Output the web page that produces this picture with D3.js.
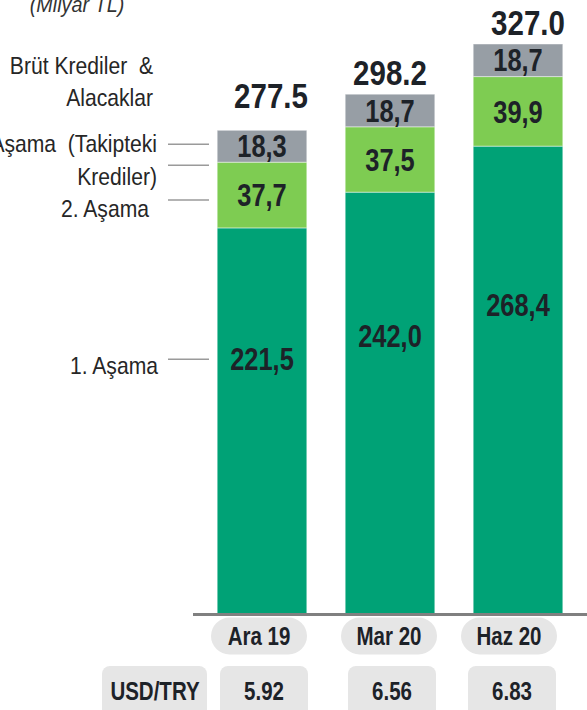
<!DOCTYPE html>
<html>
<head>
<meta charset="utf-8">
<script src="https://cdn.jsdelivr.net/npm/d3@7"></script>
<style>
  body { margin: 0; background: #fff; }
  svg { display: block; }
</style>
</head>
<body>
<div id="chart"></div>
<script>
const periods = ["Ara 19", "Mar 20", "Haz 20"];
const stage1 = [221.5, 242.0, 268.4];
const stage2 = [37.7, 37.5, 39.9];
const stage3 = [18.3, 18.7, 18.7];
const totals = ["277.5", "298.2", "327.0"];
const usdTry = ["5.92", "6.56", "6.83"];

const W = 587, H = 710;
const font = "'Liberation Sans', Arial, sans-serif";
const ink = "#1d2228";
const SQ = 0.82;   // horizontal squeeze to mimic a narrow face

const svg = d3.select("#chart")
  .append("svg")
  .attr("width", W)
  .attr("height", H);

const x = d3.scaleBand()
  .domain(periods)
  .range([198, 582])
  .paddingInner(0.3)
  .paddingOuter(0.15);

const y = d3.scaleLinear()
  .domain([0, 327])
  .range([614, 44]);

const fmt = v => d3.format(".1f")(v).replace(".", ",");
const at = (px, py, s = SQ) => `translate(${px},${py}) scale(${s},1)`;

const rows = periods.map((p, i) => ({
  period: p, s1: stage1[i], s2: stage2[i], s3: stage3[i], total: totals[i], fx: usdTry[i]
}));

const stack = d3.stack().keys(["s1", "s2", "s3"])(rows);
const colors = { s1: "#00a276", s2: "#7ecc52", s3: "#979ea5" };

// bars
stack.forEach(layer => {
  svg.append("g")
    .selectAll("rect")
    .data(layer)
    .join("rect")
    .attr("x", d => x(d.data.period))
    .attr("y", d => y(d[1]))
    .attr("width", x.bandwidth())
    .attr("height", d => y(d[0]) - y(d[1]))
    .attr("fill", colors[layer.key])
    .attr("stroke", "rgba(255,255,255,0.45)")
    .attr("stroke-width", 1);
});

// segment labels
stack.forEach(layer => {
  svg.append("g")
    .selectAll("text")
    .data(layer)
    .join("text")
    .attr("transform", d => at(
      x(d.data.period) + x.bandwidth() / 2,
      layer.key === "s1"
        ? y(d[1]) + (y(d[0]) - y(d[1])) * 0.34
        : (y(d[0]) + y(d[1])) / 2))
    .attr("dy", "0.36em")
    .attr("text-anchor", "middle")
    .style("font-family", font)
    .style("font-weight", "bold")
    .style("font-size", "31px")
    .style("fill", ink)
    .text(d => fmt(d[1] - d[0]));
});

// totals above bars (small nudges as in the original)
const totalNudge = [[9, -13], [0, 0], [10, 0]];
svg.append("g")
  .selectAll("text")
  .data(rows)
  .join("text")
  .attr("transform", (d, i) => at(
    x(d.period) + x.bandwidth() / 2 + totalNudge[i][0],
    y(+d.total) - 9 + totalNudge[i][1]))
  .attr("text-anchor", "middle")
  .style("font-family", font)
  .style("font-weight", "bold")
  .style("font-size", "36px")
  .style("fill", ink)
  .text(d => d.total);

// baseline
svg.append("line")
  .attr("x1", 193).attr("x2", W)
  .attr("y1", y(0) + 0.5).attr("y2", y(0) + 0.5)
  .attr("stroke", "#808080")
  .attr("stroke-width", 3);

// category pills
const catNudge = [-3, -1, -9];
const cat = svg.append("g")
  .selectAll("g")
  .data(rows)
  .join("g")
  .attr("transform", (d, i) => `translate(${x(d.period) + x.bandwidth() / 2 + catNudge[i]},636)`);
cat.append("rect")
  .attr("x", -48).attr("y", -18.5)
  .attr("width", 96).attr("height", 37)
  .attr("rx", 18.5)
  .attr("fill", "#e6e6e6");
cat.append("text")
  .attr("transform", at(0, 0))
  .attr("dy", "0.36em")
  .attr("text-anchor", "middle")
  .style("font-family", font)
  .style("font-weight", "bold")
  .style("font-size", "25px")
  .style("fill", ink)
  .text(d => d.period);

// USD/TRY row
const fxNudge = [2, 2, -6];
const fx = svg.append("g")
  .selectAll("g")
  .data(rows)
  .join("g")
  .attr("transform", (d, i) => `translate(${x(d.period) + x.bandwidth() / 2 + fxNudge[i]},666)`);
fx.append("rect")
  .attr("x", -44).attr("y", 0)
  .attr("width", 88).attr("height", 56)
  .attr("rx", 8)
  .attr("fill", "#e6e6e6");
fx.append("text")
  .attr("transform", at(0, 34))
  .attr("text-anchor", "middle")
  .style("font-family", font)
  .style("font-weight", "bold")
  .style("font-size", "25px")
  .style("fill", ink)
  .text(d => d.fx);

svg.append("rect")
  .attr("x", 102).attr("y", 666)
  .attr("width", 105).attr("height", 56)
  .attr("rx", 8)
  .attr("fill", "#e6e6e6");
svg.append("text")
  .attr("transform", at(155, 700))
  .attr("text-anchor", "middle")
  .style("font-family", font)
  .style("font-weight", "bold")
  .style("font-size", "25px")
  .style("fill", ink)
  .text("USD/TRY");

// unit note
svg.append("text")
  .attr("transform", at(77, 12, 0.9))
  .attr("text-anchor", "middle")
  .style("font-family", font)
  .style("font-style", "italic")
  .style("font-size", "22px")
  .style("fill", "#333")
  .text("(Milyar TL)");

// legend labels with leader lines, tied to the first bar
const first = rows[0];
const legend = [
  { lines: ["Brüt Krediler  &", "Alacaklar"], lineY: y(+first.total) + 35, textX: 153, base: [74, 106] },
  { lines: ["3. Aşama  (Takipteki", "Krediler)"], lineY: y(first.s1 + first.s2 + first.s3 / 2) - 2, textX: 157, base: [152, 185] },
  { lines: ["2. Aşama"], lineY: y(first.s1 + first.s2 / 2) + 5, textX: 149, base: [217] },
  { lines: ["1. Aşama"], lineY: y(first.s1 * 0.66), textX: 158, base: [374] }
];

legend.forEach(l => {
  svg.append("line")
    .attr("x1", 168).attr("x2", 209)
    .attr("y1", l.lineY).attr("y2", l.lineY)
    .attr("stroke", "#9a9a9a")
    .attr("stroke-width", 1.5);
  l.lines.forEach((t, j) => {
    svg.append("text")
      .attr("transform", at(l.textX, l.base[j], 0.88))
      .attr("text-anchor", "end")
      .style("font-family", font)
      .style("font-size", "24px")
      .style("fill", "#262626")
      .style("white-space", "pre")
      .text(t);
  });
});
</script>
</body>
</html>
